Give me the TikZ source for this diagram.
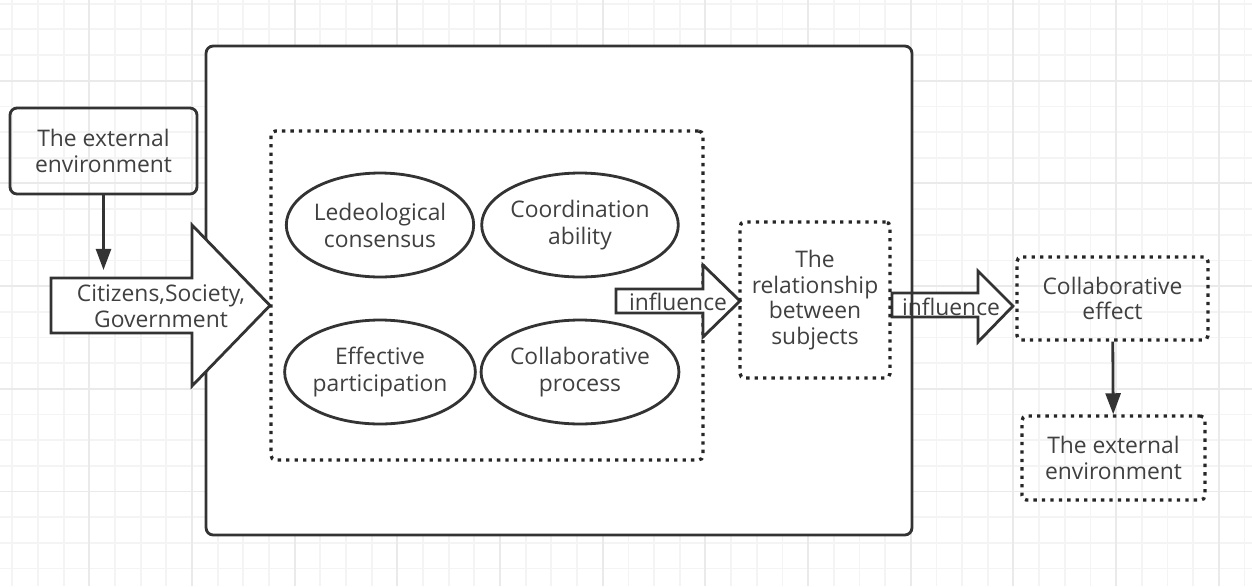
\documentclass[tikz,border=0pt]{standalone}
\usepackage{fontspec}
\setmainfont{Open Sans}
\usetikzlibrary{arrows.meta, shapes.geometric}

\definecolor{linegray}{HTML}{333333}
\definecolor{textgray}{HTML}{404040}
\definecolor{gridminor}{HTML}{F4F4F4}
\definecolor{gridmajor}{HTML}{EAEAEA}

\begin{document}
\begin{tikzpicture}[x=0.02cm, y=-0.02cm, >={Triangle[length=12pt, width=8.5pt]}, line width=1.6pt]
    \tikzset{box/.style={draw=linegray, rounded corners=4pt, align=center, text=textgray,
                 font=\fontsize{13}{14.7}\selectfont, inner sep=0pt},
             dotbox/.style={box, draw=black!85, line width=1.9pt, dash pattern=on 1.9pt off 2.9pt, rounded corners=2.5pt},
             oval/.style={ellipse, draw=linegray, align=center, text=textgray,
                 font=\fontsize{13}{15.3}\selectfont, inner sep=0pt,
                 minimum width=3.46cm, minimum height=2.08cm},
             arrowtext/.style={text=textgray, font=\fontsize{13}{15}\selectfont, align=center, inner sep=0pt},
             blockarrow/.style={draw=linegray, fill=white, line join=miter}}
    % Background grid
    \useasboundingbox (0,0) rectangle (1252,586);
    \fill[white] (0,0) rectangle (1252,586);
    \foreach \i in {0,...,48}
        \draw[gridminor, line width=1pt] (12.3+25.67*\i, 0) -- ++(0, 586);
    \foreach \i in {0,...,22}
        \draw[gridminor, line width=1pt] (0, 3.7+25.67*\i) -- ++(1252, 0);
    \foreach \i in {0,...,11}
        \draw[gridmajor, line width=1pt] (89.3+102.67*\i, 0) -- ++(0, 586);
    \foreach \i in {0,...,4}
        \draw[gridmajor, line width=1pt] (0, 80.7+102.67*\i) -- ++(1252, 0);
    % Frame
    \fill[white, rounded corners=4pt] (206,46) rectangle (912,535);
    \draw[blockarrow] (892,293) -- (978,293) -- (978,271) -- (1013,306) -- (978,342) -- (978,317) -- (892,317) -- cycle;
    \node[arrowtext] (influence2) at (951,307) {influence};
    \node[box, minimum width=14.12cm, minimum height=9.78cm] (frame) at (559,290.5) {};
    % Input
    \node[box, minimum width=3.74cm, minimum height=1.72cm] (extin) at (103.5,151) {The external\\environment};
    \coordinate (actorstop) at (103.5,270);
    \draw[->, linegray] (extin) -- (actorstop);
    \draw[blockarrow] (51,278) -- (192,278) -- (192,225) -- (270,305.5) -- (192,386) -- (192,333) -- (51,333) -- cycle;
    \node[arrowtext] (actors) at (161,306) {Citizens,Society,\\Government};
    % Core
    \node[dotbox, minimum width=8.64cm, minimum height=6.58cm] (core) at (487,295.5) {};
    \node[oval] (ideology) at (380,225) {Ledeological\\consensus};
    \node[oval] (coordination) at (580,225) {Coordination\\ability};
    \node[oval] (participation) at (380,372) {Effective\\participation};
    \node[oval] (process) at (580,372) {Collaborative\\process};
    \draw[blockarrow] (616,289) -- (703,289) -- (703,265) -- (740,301) -- (703,337) -- (703,313) -- (616,313) -- cycle;
    \node[arrowtext] (influence1) at (678,302) {influence};
    % Output
    \node[dotbox, minimum width=3cm, minimum height=3.12cm] (relation) at (815,300) {The\\relationship\\between\\subjects};
    \node[dotbox, minimum width=3.82cm, minimum height=1.66cm] (effect) at (1112.5,298.5) {Collaborative\\effect};
    \node[dotbox, minimum width=3.66cm, minimum height=1.68cm] (extout) at (1113.5,458) {The external\\environment};
    \draw[->, linegray] (effect) -- (extout);
\end{tikzpicture}
\end{document}
